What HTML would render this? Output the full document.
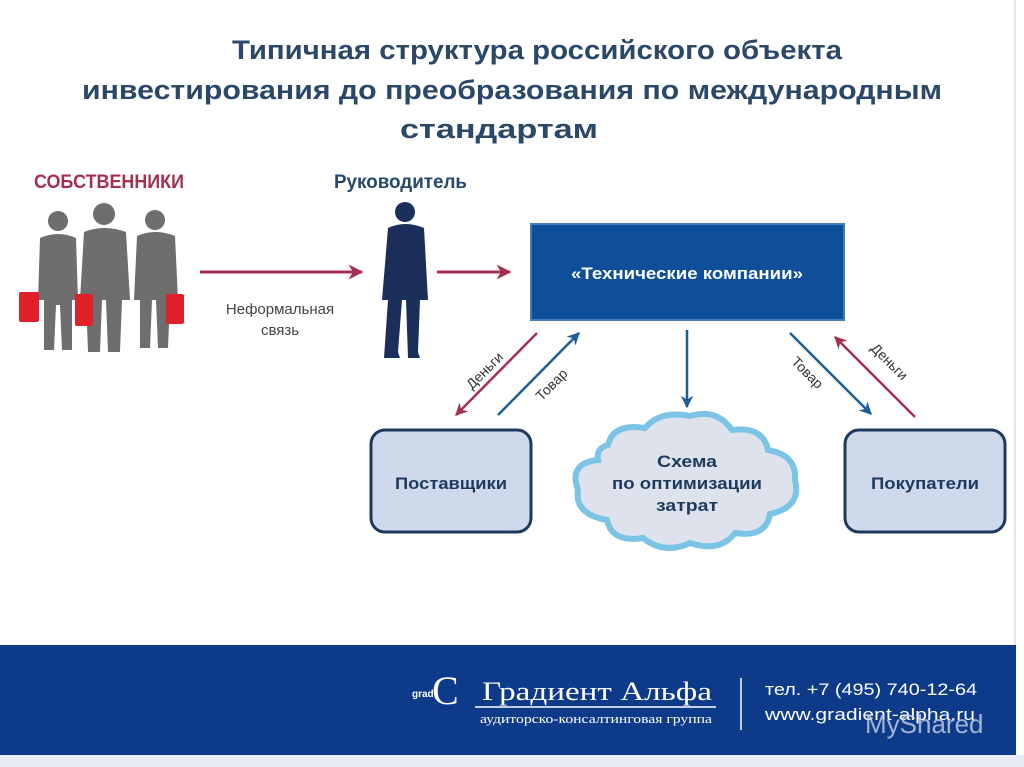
<!DOCTYPE html>
<html><head><meta charset="utf-8"><style>
html,body{margin:0;padding:0;background:#fff;width:1024px;height:767px;overflow:hidden}
svg{display:block}
text{font-family:"Liberation Sans Narrow","Liberation Sans",sans-serif;font-weight:bold}
</style></head><body>
<svg width="1024" height="767" viewBox="0 0 1024 767" xmlns="http://www.w3.org/2000/svg">
<defs>
<marker id="ar" viewBox="0 0 10 10" refX="9" refY="5" markerWidth="5" markerHeight="5" orient="auto"><path d="M0,0 L10,5 L0,10 L3,5z" fill="#a3304f"/></marker>
<marker id="ab" viewBox="0 0 10 10" refX="9" refY="5" markerWidth="5" markerHeight="5" orient="auto"><path d="M0,0 L10,5 L0,10 L3,5z" fill="#1f5d96"/></marker>
</defs>
<rect x="0" y="0" width="1024" height="767" fill="#fff"/>
<line x1="1015" y1="0" x2="1015" y2="645" stroke="#e4e4e4" stroke-width="2"/>
<g fill="#2c4868" font-size="27">
<text x="232" y="59" textLength="610" lengthAdjust="spacingAndGlyphs">Типичная структура российского объекта</text>
<text x="82" y="99" textLength="860" lengthAdjust="spacingAndGlyphs">инвестирования до преобразования по международным</text>
<text x="400" y="138" textLength="198" lengthAdjust="spacingAndGlyphs">стандартам</text>
</g>
<text x="34" y="188" font-size="19" fill="#a3304f" textLength="150" lengthAdjust="spacingAndGlyphs">СОБСТВЕННИКИ</text>
<text x="334" y="188" font-size="19" fill="#26486e" textLength="133" lengthAdjust="spacingAndGlyphs">Руководитель</text>
<g fill="#6e6e6e">
<circle cx="58" cy="221" r="10"/><path d="M40,238 Q58,230 76,238 L78,300 L72,300 L72,350 L62,350 L60,305 L56,305 L54,350 L44,350 L44,300 L38,300 Z"/>
<circle cx="104" cy="214" r="11"/><path d="M84,232 Q104,224 126,232 L130,300 L122,300 L120,352 L108,352 L106,300 L102,300 L100,352 L88,352 L86,300 L80,300 Z"/>
<circle cx="155" cy="220" r="10"/><path d="M137,236 Q155,228 175,236 L178,300 L170,300 L168,348 L158,348 L156,300 L152,300 L150,348 L140,348 L140,300 L134,300 Z"/>
</g>
<g fill="#e0202a">
<rect x="19" y="292" width="20" height="30" rx="2"/><rect x="75" y="294" width="18" height="32" rx="2"/><rect x="166" y="294" width="18" height="30" rx="2"/>
</g>
<g fill="#1b2f5a">
<circle cx="405" cy="212" r="10"/><path d="M388,228 Q405,220 424,228 L428,300 L420,300 L418,352 L420,358 L408,358 L406,300 L402,300 L398,352 L400,358 L384,358 L388,300 L382,300 Z"/>
</g>
<line x1="200" y1="272" x2="362" y2="272" stroke="#a3304f" stroke-width="3" marker-end="url(#ar)"/>
<line x1="437" y1="272" x2="510" y2="272" stroke="#a3304f" stroke-width="3" marker-end="url(#ar)"/>
<text x="280" y="314" font-size="15" fill="#444" text-anchor="middle" style="font-weight:normal">Неформальная</text>
<text x="280" y="335" font-size="15" fill="#444" text-anchor="middle" style="font-weight:normal">связь</text>
<rect x="531" y="224" width="313" height="96" fill="#0f4f99" stroke="#4a7bb6" stroke-width="2"/>
<text x="687" y="279" font-size="17" fill="#fff" text-anchor="middle" textLength="232" lengthAdjust="spacingAndGlyphs">«Технические компании»</text>
<line x1="537" y1="333" x2="456" y2="415" stroke="#a3304f" stroke-width="2.5" marker-end="url(#ar)"/>
<line x1="498" y1="415" x2="579" y2="333" stroke="#1f5d96" stroke-width="2.5" marker-end="url(#ab)"/>
<line x1="687" y1="330" x2="687" y2="407" stroke="#1f5d96" stroke-width="2.5" marker-end="url(#ab)"/>
<line x1="790" y1="333" x2="871" y2="414" stroke="#1f5d96" stroke-width="2.5" marker-end="url(#ab)"/>
<line x1="915" y1="417" x2="835" y2="337" stroke="#a3304f" stroke-width="2.5" marker-end="url(#ar)"/>
<g font-size="14" fill="#333">
<text transform="translate(488,374) rotate(-45)" text-anchor="middle" style="font-weight:normal">Деньги</text>
<text transform="translate(555,388) rotate(-45)" text-anchor="middle" style="font-weight:normal">Товар</text>
<text transform="translate(804,376) rotate(45)" text-anchor="middle" style="font-weight:normal">Товар</text>
<text transform="translate(886,365) rotate(45)" text-anchor="middle" style="font-weight:normal">Деньги</text>
</g>
<rect x="371" y="430" width="160" height="102" rx="14" fill="#cfd9ec" stroke="#1d3a5e" stroke-width="3"/>
<text x="451" y="489" font-size="17" fill="#1d3a5e" text-anchor="middle" textLength="112" lengthAdjust="spacingAndGlyphs">Поставщики</text>
<rect x="845" y="430" width="160" height="102" rx="14" fill="#cfd9ec" stroke="#1d3a5e" stroke-width="3"/>
<text x="925" y="489" font-size="17" fill="#1d3a5e" text-anchor="middle" textLength="108" lengthAdjust="spacingAndGlyphs">Покупатели</text>
<path d="M608,445 Q613,423 645,428 Q660,410 690,416 Q717,408 732,430 Q763,426 768,450 Q797,455 795,480 Q802,507 770,514 Q766,538 735,533 Q720,553 690,543 Q664,555 643,538 Q612,543 607,520 Q574,514 578,490 Q568,463 598,460 Q596,448 608,445 Z" fill="#dde2ec" stroke="#7cc4e6" stroke-width="6"/>
<g font-size="17" fill="#1d3a5e" text-anchor="middle">
<text x="687" y="467" textLength="60" lengthAdjust="spacingAndGlyphs">Схема</text>
<text x="687" y="489" textLength="150" lengthAdjust="spacingAndGlyphs">по оптимизации</text>
<text x="687" y="511" textLength="62" lengthAdjust="spacingAndGlyphs">затрат</text>
</g>
<rect x="0" y="645" width="1016" height="110" fill="#0e3a8a"/>
<rect x="0" y="755" width="1024" height="12" fill="#e8ecf2"/>
<text x="412" y="697" font-size="10" fill="#fff" font-family="Liberation Serif,serif">grad</text>
<text x="432" y="704" font-size="40" fill="#fff" style="font-family:'Liberation Serif',serif;font-weight:normal">C</text>
<text x="482" y="700" font-size="26" fill="#fff" style="font-family:'Liberation Serif',serif;font-weight:normal" textLength="230" lengthAdjust="spacingAndGlyphs">Градиент Альфа</text>
<line x1="475" y1="707" x2="716" y2="707" stroke="#fff" stroke-width="1.5"/>
<text x="480" y="723" font-size="13" fill="#fff" style="font-family:'Liberation Serif',serif;font-weight:normal" textLength="232" lengthAdjust="spacingAndGlyphs">аудиторско-консалтинговая группа</text>
<line x1="741" y1="678" x2="741" y2="730" stroke="#fff" stroke-width="1.5"/>
<text x="765" y="695" font-size="17" fill="#fff" style="font-family:'Liberation Sans',sans-serif;font-weight:normal" textLength="212" lengthAdjust="spacingAndGlyphs">тел. +7 (495) 740-12-64</text>
<text x="765" y="720" font-size="17" fill="#fff" style="font-family:'Liberation Sans',sans-serif;font-weight:normal" textLength="210" lengthAdjust="spacingAndGlyphs">www.gradient-alpha.ru</text>
<text x="865" y="733" font-size="26" fill="#c8d2e6" opacity="0.8" style="font-family:'Liberation Sans',sans-serif;font-weight:normal">MyShared</text>
</svg>
</body></html>
